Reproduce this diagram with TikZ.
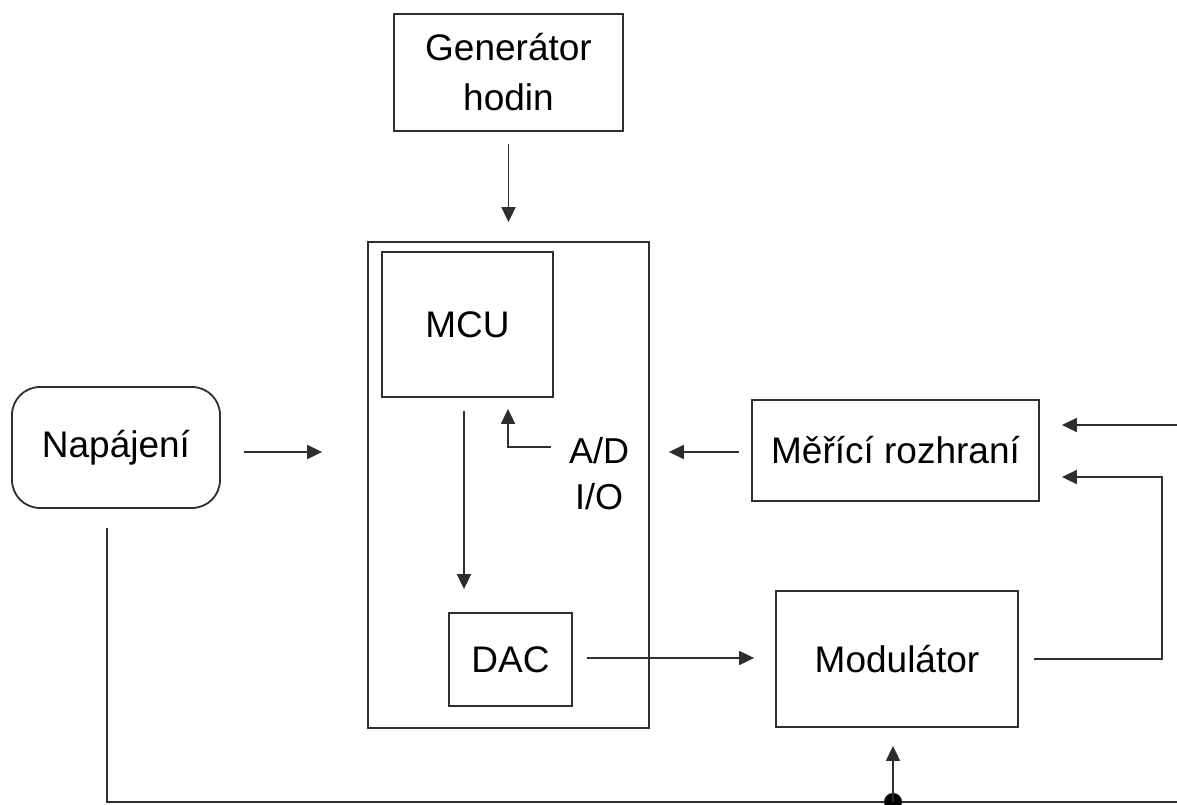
\documentclass[tikz,border=0pt]{standalone}
\usepackage{fontspec}
\setmainfont{Liberation Sans}
\usetikzlibrary{arrows.meta,calc}
\begin{document}
\begin{tikzpicture}[x=1pt,y=-1pt,
  ln/.style={line width=1.8pt, draw=black!82},
  txt/.style={font=\fontsize{37}{50}\selectfont, align=center, text=black},
  box/.style={ln, rectangle, inner sep=0pt, txt},
  arr/.style={ln, -{Triangle[length=15pt,width=14pt]}},
  lbl/.style={inner sep=0pt, font=\fontsize{36}{46}\selectfont, align=center}]
\useasboundingbox[fill=white] (0,0) rectangle (1177,805);
% boxes
\node[box, minimum width=229pt, minimum height=117pt] (gen) at (508.5,72.5) {Generátor\\hodin};
\node[box, minimum width=281pt, minimum height=486pt] (big) at (508.5,485) {};
\node[box, minimum width=171pt, minimum height=145pt] (mcu) at (467.5,324.5) {MCU};
\node[box, minimum width=123pt, minimum height=93pt] (dac) at (510.5,659.5) {DAC};
\node[box, minimum width=242pt, minimum height=136pt] (mod) at (897,659) {Modulátor};
\node[box, minimum width=287pt, minimum height=101pt] (mer) at (895.5,450.5) {Měřící rozhraní};
\node[box, rounded corners=28pt, minimum width=208pt, minimum height=121pt] (nap) at (116,447.5) {Napájení};
\node[lbl] (adio) at (599,474) {A/D\\I/O};
% connectors
\draw[arr] ($(gen.south)+(0,12)$) -- ($(big.north)+(0,-19)$);
\draw[arr] ($(nap.east)+(23,4.5)$) -- ($(nap.east -| big.west)+(-45,4.5)$);
\draw[arr] ($(mer.west)+(-12,1.5)$) -- ($(big.east |- mer.west)+(19,1.5)$);
\draw[arr] ($(mcu.south)+(-3.5,13)$) -- ($(mcu.south |- dac.north)+(-3.5,-23)$);
\draw[arr] ($(dac.east)+(14,-1.5)$) -- ($(mod.west |- dac.east)+(-21,-1.5)$);
\coordinate (adl) at (551,447);
\draw[arr] (adl) -| ($(mcu.south)+(40.5,11)$);
\coordinate (in1) at (1177,425);
\draw[arr] (in1) -- ($(mer.east |- in1)+(22,0)$);
\coordinate (fb) at (1162,477);
\draw[arr] ($(mod.east)+(15,0)$) -| (fb) -- ($(mer.east |- fb)+(22,0)$);
\coordinate (dot) at (893,802);
\coordinate (br) at (1177,802);
\draw[ln] ($(nap.south)+(-9,19)$) |- (br);
\fill[black] (dot) circle (9pt);
\draw[arr] (dot) -- ($(mod.south -| dot)+(0,18)$);
\end{tikzpicture}
\end{document}
